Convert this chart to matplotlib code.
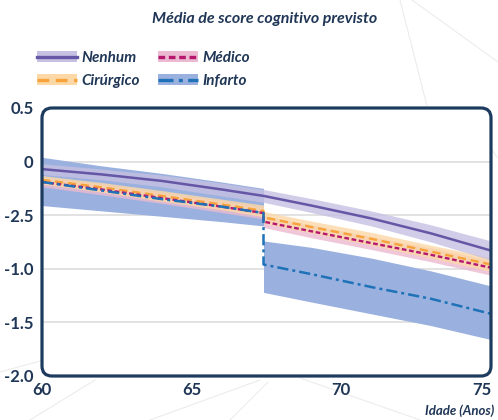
import matplotlib
matplotlib.use("Agg")
import matplotlib.pyplot as plt
from matplotlib.patches import FancyBboxPatch, Patch
from matplotlib.lines import Line2D

plt.rcParams["font.family"] = ["Lato", "DejaVu Sans"]

# idade antes e depois do evento (67.4 anos)
idade_pre = [60, 62, 64, 66, 67.4]
idade_pos = [67.4, 69, 71, 73, 75]

# médias previstas
nenhum_pre = [-0.07, -0.12, -0.18, -0.26, -0.32]
nenhum_pos = [-0.32, -0.41, -0.53, -0.67, -0.83]
medico_pre = [-0.19, -0.26, -0.34, -0.42, -0.48]
medico_pos = [-0.56, -0.65, -0.76, -0.87, -0.99]
cirurgico_pre = [-0.17, -0.24, -0.32, -0.40, -0.46]
cirurgico_pos = [-0.52, -0.61, -0.72, -0.84, -0.96]
infarto_pre = [-0.19, -0.27, -0.35, -0.42, -0.48]
infarto_pos = [-0.96, -1.05, -1.17, -1.28, -1.42]

# meia largura do intervalo
nenhum_ic_pre = [0.05, 0.05, 0.055, 0.06, 0.06]
nenhum_ic_pos = [0.06, 0.065, 0.07, 0.08, 0.09]
medico_ic_pre = [0.045, 0.05, 0.05, 0.055, 0.055]
medico_ic_pos = [0.055, 0.06, 0.06, 0.065, 0.07]
cirurgico_ic_pre = [0.04, 0.045, 0.05, 0.05, 0.055]
cirurgico_ic_pos = [0.055, 0.055, 0.06, 0.06, 0.065]

# intervalo do infarto (assimétrico)
infarto_sup_pre = [0.04, -0.04, -0.11, -0.19, -0.25]
infarto_inf_pre = [-0.41, -0.46, -0.51, -0.56, -0.60]
infarto_sup_pos = [-0.74, -0.80, -0.90, -1.02, -1.16]
infarto_inf_pos = [-1.22, -1.31, -1.42, -1.53, -1.66]

xticks = [60, 65, 70, 75]
yticks = [0.5, 0, -0.5, -1.0, -1.5, -2.0]
ytick_labels = ["0.5", "0", "-2.5", "-1.0", "-1.5", "-2.0"]

NAVY = "#1d3b5e"
TXT = "#1f3656"
cores = {
    "Nenhum": ("#6656a6", "#c6c0e2"),
    "Médico": ("#b5176f", "#ebb9d0"),
    "Cirúrgico": ("#f7a23b", "#fcd8a6"),
    "Infarto": ("#1f72b8", "#9ab1df"),
}

fig = plt.figure(figsize=(4.98, 4.2), dpi=100)
ax = fig.add_axes([42 / 498, 44 / 420, 449 / 498, 268 / 420])

# linhas decorativas do fundo
for xs, ys in [((400, 428), (0, 110)), ((412, 498), (0, 62)),
               ((0, 44), (372, 360)), ((95, 30), (380, 420)),
               ((268, 230), (382, 420)), ((300, 420), (378, 420)),
               ((150, 260), (420, 380)), ((492, 498), (150, 158))]:
    fig.add_artist(Line2D([x / 498 for x in xs], [1 - y / 420 for y in ys],
                          color="#ececec", lw=0.8, zorder=0))

for y in [0, -0.5, -1.0, -1.5]:
    ax.axhline(y, color="#dddddd", lw=1.2, zorder=0.5)

# bandas
ax.fill_between(idade_pre, infarto_inf_pre, infarto_sup_pre, color=cores["Infarto"][1], lw=0, zorder=1)
ax.fill_between(idade_pos, infarto_inf_pos, infarto_sup_pos, color=cores["Infarto"][1], lw=0, zorder=1)

for nome, pre, pos, ic_pre, ic_pos, z in [
    ("Médico", medico_pre, medico_pos, medico_ic_pre, medico_ic_pos, 2),
    ("Cirúrgico", cirurgico_pre, cirurgico_pos, cirurgico_ic_pre, cirurgico_ic_pos, 3),
    ("Nenhum", nenhum_pre, nenhum_pos, nenhum_ic_pre, nenhum_ic_pos, 4),
]:
    for xs, m, h in [(idade_pre, pre, ic_pre), (idade_pos, pos, ic_pos)]:
        ax.fill_between(xs, [a - b for a, b in zip(m, h)], [a + b for a, b in zip(m, h)],
                        color=cores[nome][1], alpha=0.8, lw=0, zorder=z)

# linhas
estilos = {
    "Nenhum": ("-", 1.8),
    "Cirúrgico": ((0, (3.5, 2)), 1.7),
    "Médico": ((0, (2, 1.1)), 1.7),
    "Infarto": ((0, (4.5, 1.6, 1.2, 1.6)), 1.8),
}
series = {
    "Nenhum": nenhum_pre + nenhum_pos,
    "Cirúrgico": cirurgico_pre + cirurgico_pos,
    "Médico": medico_pre + medico_pos,
    "Infarto": infarto_pre + infarto_pos,
}
idade = idade_pre + idade_pos
for i, (nome, vals) in enumerate(series.items()):
    ls, lw = estilos[nome]
    ax.plot(idade, vals, color=cores[nome][0], ls=ls, lw=lw, zorder=6 + i)

ax.set_xlim(60, 75)
ax.set_ylim(-2.0, 0.5)
ax.set_xticks(xticks)
ax.set_yticks(yticks)
ax.set_yticklabels(ytick_labels)
ax.tick_params(length=0, labelsize=12, labelcolor=TXT)
ax.tick_params(axis="y", pad=6)
ax.tick_params(axis="x", pad=4)
for lab in ax.get_xticklabels() + ax.get_yticklabels():
    lab.set_fontweight("bold")
ax.get_xticklabels()[-1].set_horizontalalignment("right")
for s in ax.spines.values():
    s.set_visible(False)

# moldura arredondada
w_px, h_px = 449, 268
frame = FancyBboxPatch((0, 0), 1, 1, boxstyle="round,pad=0,rounding_size=%f" % (10 / w_px),
                       mutation_aspect=w_px / h_px, transform=ax.transAxes,
                       fill=False, ec=NAVY, lw=2.3, clip_on=False, zorder=20)
ax.add_patch(frame)

fig.text(0.532, 0.955, "Média de score cognitivo previsto", ha="center", va="center",
         fontsize=11.5, style="italic", fontweight="bold", color=TXT)
fig.text(494 / 498, 1 - 411 / 420, "Idade (Anos)", ha="right", va="center",
         fontsize=9.5, style="italic", fontweight="bold", color=TXT)

ordem = ["Nenhum", "Cirúrgico", "Médico", "Infarto"]
handles = []
for nome in ordem:
    ls, lw = estilos[nome]
    handles.append((Patch(color=cores[nome][1], lw=0),
                    Line2D([], [], color=cores[nome][0], ls=ls, lw=2.4)))
leg = fig.legend(handles, ordem, loc="upper left", bbox_to_anchor=(37 / 498, 1 - 51 / 420),
                 ncol=2, frameon=False, borderpad=0, borderaxespad=0,
                 handlelength=2.6, handletextpad=0.3, columnspacing=1.2, labelspacing=0.6,
                 prop={"size": 11, "style": "italic", "weight": "bold"})
for t in leg.get_texts():
    t.set_color(TXT)

fig.savefig("out.png", dpi=100, facecolor="white")
